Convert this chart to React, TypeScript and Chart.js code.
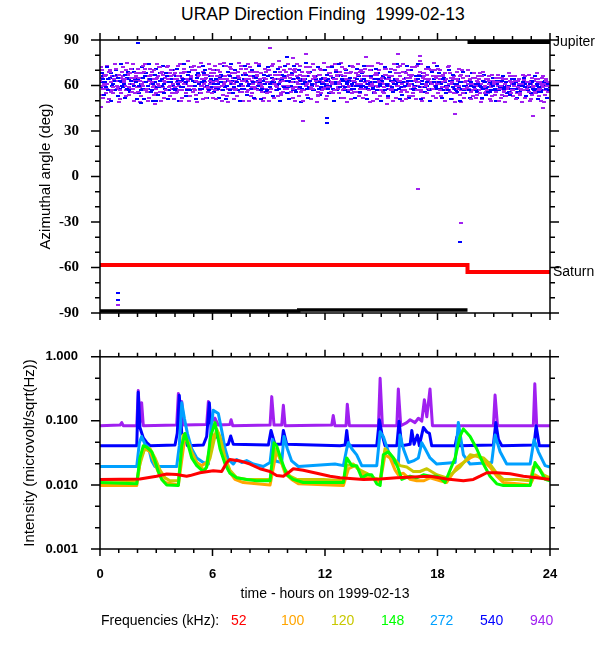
import React, { useEffect, useRef } from "react";
import { Chart, registerables } from "chart.js";
Chart.register(...registerables);

// ---------- axis tick values ----------
const HOUR_TICKS = [0, 6, 12, 18, 24];
const HOUR_MINOR = [1, 2, 3, 4, 5, 7, 8, 9, 10, 11, 13, 14, 15, 16, 17, 19, 20, 21, 22, 23];
const ANGLE_TICKS = [-90, -60, -30, 0, 30, 60, 90];
const ANGLE_MINOR = [-80, -70, -50, -40, -20, -10, 10, 20, 40, 50, 70, 80];
const INT_TICKS = [0.001, 0.01, 0.1, 1];
const INT_MINOR = [0.00215, 0.00464, 0.0215, 0.0464, 0.215, 0.464];

// ---------- top panel: azimuth samples (deg), one value per 0.125 h slot ----------
const SLOT_STEP = 0.125;
const P1 = [
  63,58,66,61,69,57,64,60,67,55,62,70,59,65,61,68,
  56,63,60,71,58,66,62,54,65,60,68,63,57,64,70,61,
  59,66,62,57,69,64,60,72,58,63,67,55,61,65,59,68,
  62,57,70,64,60,66,53,63,68,61,58,65,71,60,64,57,
  66,61,59,69,63,56,65,62,70,58,64,60,67,55,63,69,
  60,65,58,71,62,67,57,64,61,68,59,66,63,54,70,62,
  65,59,68,62,57,66,61,72,58,64,60,69,63,56,67,61,
  58,66,63,70,60,55,67,62,65,59,71,64,57,62,68,60,
  63,69,57,65,61,67,59,73,62,56,66,60,64,70,58,65,
  61,57,66,63,59,68,62,55,64,60,67,58,63,61,56,65,
  58,62,55,66,60,57,63,53,61,65,58,60,56,64,59,62,
  57,63,59,55,61,66,58,62,54,60,64,57,61,59,63,56,
];
const P2 = [
  60,67,55,64,62,59,71,63,57,66,60,64,68,56,63,59,
  65,61,69,57,63,67,59,64,61,72,56,62,66,60,58,67,
  64,57,68,61,55,63,66,60,70,62,57,64,59,67,63,55,
  68,63,59,66,61,73,58,62,65,57,69,60,63,67,56,64,
  59,65,62,57,68,61,64,70,56,63,67,59,62,65,60,58,
  67,62,70,59,64,56,66,61,69,63,58,65,60,67,57,64,
  61,68,56,64,70,59,63,57,66,62,68,55,65,61,69,58,
  66,61,57,65,62,68,59,64,56,67,61,58,66,70,60,63,
  57,64,68,60,66,55,63,62,69,59,64,67,58,61,66,62,
  66,62,59,64,57,61,65,60,58,66,55,62,59,64,57,60,
  63,57,61,59,64,55,60,62,57,65,59,54,61,58,63,57,
  60,55,64,58,62,57,60,63,59,56,62,58,65,57,60,62,
];
const P3 = [
  65,61,58,69,56,63,66,59,62,64,57,67,61,58,65,63,
  59,68,62,56,64,61,70,58,66,63,59,65,62,68,55,64,
  62,60,65,69,61,58,64,56,62,66,60,69,64,58,61,66,
  59,66,62,57,64,60,67,61,58,63,66,56,60,64,62,69,
  63,58,67,61,60,65,58,66,62,61,57,64,69,60,58,66,
  62,59,64,66,58,61,63,60,66,58,64,61,56,63,62,59,
  58,63,61,57,64,62,67,60,63,59,57,63,60,66,58,64,
  62,58,66,61,64,60,63,57,61,64,58,60,62,57,64,66,
  61,59,62,67,58,63,64,60,57,65,61,58,62,66,60,61,
  64,59,62,57,61,65,58,60,63,57,62,60,58,63,61,58,
  60,64,58,62,56,61,59,63,57,60,62,58,64,60,56,61,
  62,58,61,57,63,59,56,61,60,58,57,62,59,61,58,60,
];
const P4 = [
  72,52,67,49,70,55,74,58,51,69,63,75,54,71,50,66,
  68,53,73,57,50,71,64,48,74,56,69,52,72,59,66,51,
  55,73,50,68,62,76,53,70,57,49,72,60,67,52,74,58,
  70,51,66,74,54,62,49,72,58,68,53,75,56,63,71,50,
  53,69,75,57,64,50,71,55,67,73,52,61,76,54,70,58,
  74,56,52,69,61,73,50,66,54,72,58,70,49,67,55,75,
  51,72,66,55,74,58,69,52,71,49,64,73,56,68,53,70,
  69,54,73,60,50,67,75,53,62,71,48,66,58,74,52,68,
  56,74,51,70,65,53,72,57,76,50,68,55,71,62,75,52,
  71,53,67,50,72,56,64,49,69,54,70,52,66,58,51,68,
  52,66,49,69,55,64,51,67,54,62,50,65,57,53,68,55,
  66,51,63,54,67,52,62,50,65,55,68,53,60,49,64,56,
];
const P5 = [
  54,70,60,73,51,66,57,71,49,65,72,53,68,58,74,55,
  71,49,58,74,66,52,69,60,55,72,50,67,57,73,53,70,
  68,56,74,52,71,58,50,65,73,54,68,75,51,62,56,71,
  52,73,57,69,50,75,64,55,71,51,62,57,73,50,68,74,
  72,55,51,66,74,59,52,69,50,58,74,67,53,72,56,65,
  55,71,67,50,74,53,69,57,72,62,51,74,66,53,71,58,
  70,53,59,73,50,67,55,75,52,68,57,51,72,62,74,55,
  52,71,66,49,73,56,51,70,74,55,67,52,71,50,63,72,
  73,50,69,56,53,72,60,51,67,74,52,71,63,57,53,70,
  55,70,52,68,58,73,51,66,55,71,49,65,57,70,64,53,
  65,54,68,51,63,57,66,50,62,56,67,52,64,49,58,66,
  53,66,56,61,49,64,57,67,51,63,55,64,50,66,54,62,
];
const B1 = [
  62,66,59,64,68,61,57,65,63,60,67,58,64,61,69,62,
  60,57,65,62,58,64,61,67,59,63,60,55,66,62,64,58,
  66,61,59,64,62,67,57,63,60,65,58,62,68,60,57,64,
  61,64,58,62,66,59,63,57,61,65,62,60,58,64,67,61,
  58,62,65,60,57,63,61,66,59,62,64,57,61,67,59,63,
  63,60,57,62,65,59,61,64,58,63,60,66,62,58,64,61,
  60,64,62,58,61,66,59,63,57,62,65,61,58,64,60,63,
  64,59,61,66,58,62,64,60,63,57,61,65,59,63,61,58,
  59,62,65,61,63,58,60,64,66,61,59,62,64,58,62,60,
  62,58,64,60,57,63,59,61,56,62,58,60,63,57,60,59,
  57,61,59,63,58,56,62,60,57,61,59,63,58,55,60,62,
  61,58,56,60,62,59,57,61,63,58,60,56,59,62,58,57,
];
const B2 = [
  59,64,62,57,65,60,63,67,58,62,61,65,57,63,60,66,
  64,61,58,66,60,63,57,62,65,59,64,61,68,57,62,60,
  58,63,66,59,61,57,64,60,62,67,61,58,63,65,59,62,
  63,58,61,65,57,62,60,66,63,59,57,64,61,58,63,60,
  61,66,59,63,62,58,64,57,61,65,62,60,58,63,66,60,
  59,62,64,57,61,63,58,62,66,59,61,57,64,62,59,65,
  63,58,60,65,62,57,61,64,59,61,63,58,62,60,66,59,
  60,63,58,62,59,64,57,61,62,65,60,58,63,61,57,62,
  62,57,60,63,65,61,58,62,59,63,66,60,57,61,64,59,
  58,61,57,62,60,56,63,58,61,59,62,57,60,58,62,57,
  61,57,60,58,62,59,56,61,58,63,57,60,59,62,56,58,
  58,62,59,56,60,61,57,59,62,57,61,59,56,60,58,61,
];
const B3 = [
  68,54,72,57,50,66,70,53,74,59,52,69,56,71,64,51,
  55,72,51,68,74,56,50,71,54,68,73,58,51,66,70,57,
  71,50,63,74,53,69,72,56,51,68,55,73,70,52,66,59,
  56,70,52,67,73,51,69,74,55,70,57,50,67,73,54,66,
  70,52,58,73,51,67,56,72,61,53,69,71,50,64,73,55,
  51,68,73,56,70,49,64,75,52,69,57,66,72,54,61,70,
  67,55,72,50,69,74,52,66,70,56,73,60,52,71,56,68,
  73,51,57,70,55,71,68,50,66,72,53,69,56,64,74,51,
  54,69,73,52,70,57,66,74,51,68,56,72,50,69,58,73,
  68,52,65,55,70,51,67,57,64,50,69,55,66,52,68,60,
  56,64,52,67,54,61,57,65,50,63,58,66,53,60,54,64,
  64,52,60,57,65,53,62,55,58,66,51,61,57,63,52,59,
];
const OUT_P_H = [0.04, 0.94, 9.07, 10.3, 11.0, 10.8, 14.2, 15.9, 17.07, 16.96, 19.25, 18.93, 23.07, 23.6];
const OUT_P_V = [45.5, -84.8, 85, 78, 81, 36.5, 78.6, 81, 79.7, -8, -30.6, 41.5, 40, 45];
const OUT_B_H = [2.03, 0.94, 0.94, 12.1, 12.1, 2.2, 3.0, 19.2, 9.97];
const OUT_B_V = [88.3, -76.6, -81.6, 38.4, 35, 48.7, 50, -43, 78.5];

// body positions drawn as lines
const JUP_H = [19.6, 24];
const JUP_V = [88.7, 88.7];
const SAT_H = [0, 19.6, 19.6, 24];
const SAT_V = [-58.3, -58.3, -63, -63];
const LOW_H = [0, 10.6, 10.6, 19.6];
const LOW_V = [-88.6, -88.6, -88.1, -88.1];

// ---------- bottom panel: intensity (microvolt/sqrt(Hz)) ----------
const H940 = [0,1.07,1.16,1.24,1.96,2.04,2.13,2.22,2.31,4.09,4.18,4.27,4.36,4.48,5.69,5.78,5.9,6.13,6.31,6.93,6.99,7.08,9.07,9.16,9.28,9.69,9.78,9.87,12.36,12.44,12.53,13.12,13.19,13.3,14.85,14.94,15.06,15.83,15.91,16.04,16.36,16.54,16.8,16.98,17.16,17.3,17.43,17.6,17.73,20.98,21.07,21.2,23.11,23.19,23.29,24];
const V940 = [0.0838,0.086,0.094,0.084,0.084,0.298,0.094,0.192,0.084,0.086,0.267,0.094,0.2,0.086,0.088,0.2,0.094,0.11,0.086,0.088,0.104,0.084,0.086,0.239,0.086,0.086,0.175,0.084,0.086,0.121,0.084,0.084,0.182,0.084,0.084,0.462,0.084,0.084,0.315,0.084,0.094,0.104,0.094,0.11,0.099,0.214,0.116,0.315,0.084,0.084,0.253,0.084,0.084,0.38,0.084,0.084];

const H540 = [0,1.96,2.04,2.13,2.31,2.49,2.67,4.0,4.12,4.23,4.36,4.53,4.66,5.51,5.69,5.83,5.96,6.19,6.4,6.54,6.84,6.97,7.11,8.98,9.12,9.21,9.33,9.69,9.78,9.96,12.8,13.07,13.16,13.25,14.76,14.9,15.03,15.2,15.83,15.95,16.09,16.54,16.63,16.75,16.93,17.03,17.25,17.43,17.57,17.69,18.94,19.03,19.17,20.98,21.11,21.25,21.43,23.15,23.26,23.43,24];
const V540 = [0.041,0.041,0.28,0.079,0.054,0.046,0.041,0.042,0.064,0.25,0.064,0.057,0.041,0.042,0.057,0.192,0.054,0.06,0.048,0.041,0.043,0.058,0.043,0.042,0.071,0.057,0.043,0.043,0.071,0.043,0.041,0.042,0.071,0.041,0.041,0.104,0.064,0.041,0.041,0.099,0.041,0.043,0.071,0.043,0.06,0.041,0.079,0.067,0.064,0.041,0.041,0.056,0.041,0.042,0.094,0.051,0.041,0.042,0.084,0.041,0.041];

const H272 = [0,1.96,2.1,2.22,2.4,2.58,2.76,2.93,4.09,4.23,4.36,4.5,4.66,4.89,5.16,5.51,5.78,5.9,6.04,6.31,6.49,6.67,6.84,7.11,7.29,7.56,7.82,8.18,8.71,9.07,9.21,9.35,9.69,9.81,9.99,10.22,10.58,12.53,12.98,13.16,13.25,13.43,13.69,13.96,14.76,14.94,15.11,15.38,15.65,15.91,16.0,16.18,16.45,16.71,16.98,17.16,17.34,17.6,17.96,18.94,19.11,19.38,19.74,20.89,21.07,21.34,21.69,22.94,23.15,23.38,23.74,24];
const V272 = [0.0194,0.0194,0.0457,0.057,0.0433,0.0388,0.0237,0.0194,0.0194,0.041,0.192,0.11,0.0637,0.0367,0.0264,0.0224,0.0212,0.0637,0.146,0.13,0.0711,0.0367,0.025,0.0212,0.025,0.0224,0.024,0.0212,0.0194,0.0224,0.051,0.0237,0.0224,0.057,0.0367,0.0237,0.0194,0.0212,0.02,0.0367,0.0457,0.0367,0.0295,0.02,0.02,0.0674,0.057,0.0329,0.0224,0.0212,0.06,0.0367,0.0224,0.0237,0.0264,0.0457,0.0367,0.0264,0.0212,0.0224,0.094,0.0295,0.0212,0.0224,0.06,0.0329,0.0212,0.0212,0.051,0.0329,0.02,0.019];

const H148 = [0,1.96,2.13,2.31,2.49,2.76,2.93,3.11,3.29,3.56,4.18,4.36,4.53,4.71,4.89,5.16,5.51,5.69,5.9,6.13,6.4,6.67,6.93,7.29,7.82,8.36,9.07,9.28,9.42,9.69,9.96,10.31,10.84,11.91,12.98,13.16,13.43,13.69,13.96,14.23,14.49,14.76,14.94,15.11,15.38,15.65,15.91,16.09,16.54,16.89,17.25,17.6,17.96,18.14,18.4,18.94,19.2,19.38,19.74,20.09,20.45,20.8,21.16,21.51,22.94,23.2,23.47,23.74,24];
const V148 = [0.0109,0.0104,0.0264,0.041,0.0388,0.0329,0.0237,0.0162,0.0122,0.01,0.0098,0.041,0.0637,0.041,0.0264,0.02,0.0162,0.019,0.057,0.094,0.0367,0.0212,0.0152,0.0129,0.0122,0.0116,0.0116,0.0457,0.041,0.0237,0.0144,0.0122,0.0109,0.0109,0.0109,0.0264,0.02,0.02,0.0129,0.0144,0.0144,0.0104,0.0098,0.0295,0.0329,0.0264,0.0179,0.0122,0.0137,0.0129,0.0144,0.0137,0.0137,0.0129,0.0109,0.0264,0.057,0.075,0.057,0.0367,0.0212,0.0137,0.0104,0.0098,0.0098,0.0224,0.017,0.0122,0.0116];

const H120 = [0,1.96,2.13,2.4,2.67,2.93,3.2,3.47,3.73,4.18,4.44,4.62,4.8,4.98,5.33,5.6,5.87,6.22,6.4,6.67,6.93,7.29,7.82,9.07,9.33,9.51,9.78,10.13,10.49,11.91,12.98,13.16,13.51,13.87,14.23,14.58,14.94,15.2,15.65,16.0,16.36,16.71,17.07,17.43,17.96,18.49,19.2,19.74,20.09,20.45,20.8,21.16,21.51,22.23,22.94,23.11,23.38,23.65,24];
const V120 = [0.012,0.0116,0.0212,0.0388,0.0367,0.0264,0.017,0.0129,0.0116,0.0116,0.0603,0.051,0.0367,0.0264,0.019,0.017,0.0264,0.075,0.057,0.0264,0.017,0.0129,0.0122,0.0122,0.0367,0.0295,0.019,0.0137,0.0122,0.0122,0.0116,0.02,0.0212,0.017,0.0152,0.0129,0.0122,0.0367,0.0264,0.02,0.019,0.0162,0.0162,0.0179,0.0144,0.0129,0.019,0.0295,0.028,0.0264,0.0212,0.0152,0.0122,0.0122,0.0116,0.019,0.019,0.0144,0.0129];

const H100 = [0,1.96,2.17,2.4,2.67,2.93,3.2,3.47,4.18,4.53,4.71,4.89,5.16,5.42,5.69,6.04,6.31,6.58,6.84,7.2,7.64,9.07,9.42,9.6,9.87,10.22,10.58,12.98,13.25,13.6,13.96,14.23,14.58,14.94,15.2,15.47,15.74,15.91,16.18,16.54,16.89,17.25,17.6,18.14,18.49,19.03,19.74,20.09,20.45,20.8,21.16,21.51,22.23,22.94,23.2,23.47,23.83,24];
const V100 = [0.0098,0.0098,0.0264,0.0367,0.0329,0.0212,0.0137,0.0109,0.01,0.057,0.0457,0.0329,0.0224,0.02,0.0224,0.0603,0.0637,0.0295,0.017,0.0122,0.0109,0.01,0.0348,0.0264,0.0152,0.0122,0.0104,0.0098,0.0179,0.02,0.0152,0.0129,0.0129,0.0109,0.0295,0.0264,0.017,0.0144,0.0152,0.0122,0.0116,0.0116,0.0129,0.0116,0.0109,0.019,0.0264,0.0295,0.0237,0.019,0.0137,0.0109,0.0104,0.01,0.0144,0.0129,0.0129,0.0122];

const H52 = [0,2.13,3.02,3.56,4.09,4.62,4.8,5.33,6.04,6.49,6.76,6.93,7.47,8.0,8.53,9.07,9.42,9.78,10.13,10.31,10.84,11.56,12.27,12.8,14.05,14.94,15.83,16.71,17.6,18.49,19.38,19.91,20.27,20.63,21.16,21.87,22.58,23.29,24];
const V52 = [0.0122,0.0124,0.0137,0.0148,0.0146,0.0137,0.014,0.0155,0.0166,0.0162,0.0224,0.025,0.0237,0.0212,0.0179,0.0162,0.014,0.0137,0.0162,0.0179,0.017,0.0152,0.0137,0.0129,0.0122,0.0124,0.0129,0.0133,0.0137,0.0124,0.0116,0.0122,0.0137,0.0155,0.0155,0.015,0.0137,0.0129,0.0122];

const FREQ_LABELS = ["52", "100", "120", "148", "272", "540", "940"];
const FREQ_COLORS = ["#ff0000", "#ffa500", "#c8c800", "#00ff00", "#00a0ff", "#0000ff", "#a020f0"];
const FREQ_LEFT = [231, 281, 331, 381, 430, 480, 530];

const pts = (hs: number[], vs: number[]) => hs.map((h, i) => ({ x: h, y: vs[i] }));
const slots = (vs: number[], offset: number) => vs.map((v, i) => ({ x: i * SLOT_STEP + offset, y: v }));

function makeDash(color: string, w = 4, h = 2) {
  const c = document.createElement("canvas");
  c.width = w;
  c.height = h;
  const g = c.getContext("2d")!;
  g.fillStyle = color;
  g.fillRect(0, 0, w, h);
  return c;
}

type FrameCfg = {
  yMajor: number[];
  yMinor: number[];
  labels?: { text: string; value: number }[];
};

function makeFrame(cfg: FrameCfg) {
  return {
    id: "frame",
    afterDatasetsDraw(chart: any) {
      const { ctx, chartArea: a, scales } = chart;
      const xs = scales.x;
      const ys = scales.y;
      ctx.save();
      ctx.strokeStyle = "#000";
      ctx.lineWidth = 1.5;
      ctx.strokeRect(a.left, a.top, a.right - a.left, a.bottom - a.top);
      ctx.beginPath();
      const xt = (vals: number[], len: number) => {
        for (const v of vals) {
          const p = xs.getPixelForValue(v);
          ctx.moveTo(p, a.top);
          ctx.lineTo(p, a.top - len);
          ctx.moveTo(p, a.bottom);
          ctx.lineTo(p, a.bottom + len);
        }
      };
      const yt = (vals: number[], len: number) => {
        for (const v of vals) {
          const p = ys.getPixelForValue(v);
          ctx.moveTo(a.left, p);
          ctx.lineTo(a.left - len, p);
          ctx.moveTo(a.right, p);
          ctx.lineTo(a.right + len, p);
        }
      };
      xt(HOUR_TICKS, 7);
      xt(HOUR_MINOR, 4);
      yt(cfg.yMajor, 9);
      yt(cfg.yMinor, 5);
      ctx.stroke();
      if (cfg.labels) {
        ctx.fillStyle = "#000";
        ctx.font = '14px "Liberation Sans", Arial, sans-serif';
        ctx.textAlign = "left";
        ctx.textBaseline = "middle";
        for (const l of cfg.labels) ctx.fillText(l.text, a.right + 3, ys.getPixelForValue(l.value));
      }
      ctx.restore();
    },
  };
}

export default function App() {
  const topRef = useRef<HTMLCanvasElement>(null);
  const botRef = useRef<HTMLCanvasElement>(null);

  useEffect(() => {
    const purple = makeDash("#a020f0");
    const blue = makeDash("#0000ff");
    const scatterDs = (data: any[], img: HTMLCanvasElement) => ({
      data,
      showLine: false,
      pointStyle: img,
      pointRadius: 2,
    });
    const lineDs = (data: any[], color: string, w: number) => ({
      data,
      showLine: true,
      borderColor: color,
      borderWidth: w,
      pointRadius: 0,
      fill: false,
    });

    const top = new Chart(topRef.current!, {
      type: "scatter",
      data: {
        datasets: [
          lineDs(pts(JUP_H, JUP_V), "#000000", 4),
          lineDs(pts(SAT_H, SAT_V), "#ff0000", 4),
          lineDs(pts(LOW_H, LOW_V), "#000000", 3.5),
          scatterDs(pts(OUT_P_H, OUT_P_V), purple),
          scatterDs(pts(OUT_B_H, OUT_B_V), blue),
          scatterDs(slots(P1, 0.02), purple),
          scatterDs(slots(B1, 0.06), blue),
          scatterDs(slots(P2, 0.09), purple),
          scatterDs(slots(P4, 0.05), purple),
          scatterDs(slots(B2, 0.04), blue),
          scatterDs(slots(P3, 0.11), purple),
          scatterDs(slots(B3, 0.1), blue),
          scatterDs(slots(P5, 0.0), purple),
        ] as any,
      },
      options: {
        animation: false,
        responsive: false,
        events: [],
        layout: { padding: { left: 0, right: 50, top: 40, bottom: 16 }, autoPadding: false },
        plugins: { legend: { display: false }, tooltip: { enabled: false }, title: { display: false } },
        scales: {
          x: { type: "linear", min: 0, max: 24, display: false },
          y: {
            type: "linear",
            min: -90,
            max: 90,
            grid: { display: false },
            border: { display: false },
            afterBuildTicks: (s: any) => {
              s.ticks = ANGLE_TICKS.map((v) => ({ value: v }));
            },
            afterFit: (s: any) => {
              s.width = 100;
            },
            ticks: {
              color: "#000",
              padding: 13,
              font: { family: '"Liberation Serif", "Times New Roman", serif', size: 15, weight: "bold" },
              callback: (v: any) => String(v),
            },
            title: {
              display: true,
              text: "Azimuthal angle (deg)",
              color: "#000",
              font: { family: '"Liberation Sans", Arial, sans-serif', size: 15 },
              padding: { top: 37, bottom: 0 },
            },
          },
        },
      } as any,
      plugins: [
        makeFrame({
          yMajor: ANGLE_TICKS,
          yMinor: ANGLE_MINOR,
          labels: [
            { text: "Jupiter", value: JUP_V[0] },
            { text: "Saturn", value: SAT_V[3] },
          ],
        }),
      ],
    });

    const freqData = [
      pts(H52, V52),
      pts(H100, V100),
      pts(H120, V120),
      pts(H148, V148),
      pts(H272, V272),
      pts(H540, V540),
      pts(H940, V940),
    ];
    const drawOrder = [0, 3, 2, 1, 4, 5, 6];
    const bot = new Chart(botRef.current!, {
      type: "scatter",
      data: {
        datasets: drawOrder.map((k) => ({
          label: FREQ_LABELS[k],
          data: freqData[k],
          showLine: true,
          borderColor: FREQ_COLORS[k],
          borderWidth: 3,
          borderJoinStyle: "round",
          pointRadius: 0,
          fill: false,
        })) as any,
      },
      options: {
        animation: false,
        responsive: false,
        events: [],
        layout: { padding: { left: 0, right: 50, top: 5, bottom: 41 }, autoPadding: false },
        plugins: { legend: { display: false }, tooltip: { enabled: false }, title: { display: false } },
        scales: {
          x: {
            type: "linear",
            min: 0,
            max: 24,
            grid: { display: false },
            border: { display: false },
            afterBuildTicks: (s: any) => {
              s.ticks = HOUR_TICKS.map((v) => ({ value: v }));
            },
            afterFit: (s: any) => {
              s.height = 60;
            },
            ticks: {
              color: "#000",
              padding: 10,
              maxRotation: 0,
              font: { family: '"Liberation Sans", Arial, sans-serif', size: 13, weight: "bold" },
              callback: (v: any) => String(v),
            },
            title: {
              display: true,
              text: "time - hours on 1999-02-13",
              color: "#000",
              font: { family: '"Liberation Sans", Arial, sans-serif', size: 14 },
              padding: { top: 0, bottom: 6.5 },
            },
          },
          y: {
            type: "logarithmic",
            min: 0.001,
            max: 1,
            grid: { display: false },
            border: { display: false },
            afterBuildTicks: (s: any) => {
              s.ticks = INT_TICKS.map((v) => ({ value: v }));
            },
            afterFit: (s: any) => {
              s.width = 100;
            },
            ticks: {
              color: "#000",
              padding: 14,
              font: { family: '"Liberation Sans", Arial, sans-serif', size: 13, weight: "bold" },
              callback: (v: any) => Number(v).toFixed(3),
            },
            title: {
              display: true,
              text: "Intensity (microvolt/sqrt(Hz))",
              color: "#000",
              font: { family: '"Liberation Sans", Arial, sans-serif', size: 15 },
              padding: { top: 21, bottom: 0 },
            },
          },
        },
      } as any,
      plugins: [makeFrame({ yMajor: INT_TICKS, yMinor: INT_MINOR })],
    });

    return () => {
      top.destroy();
      bot.destroy();
    };
  }, []);

  const font = '"Liberation Sans", Arial, sans-serif';
  return (
    <div style={{ position: "absolute", left: 0, top: 0, width: 600, height: 650, background: "#fff", fontFamily: font }}>
      <div
        style={{
          position: "absolute",
          left: 181,
          top: 4,
          fontSize: 17.5,
          lineHeight: "20px",
          whiteSpace: "pre",
          color: "#000",
        }}
      >
        {"URAP Direction Finding  1999-02-13"}
      </div>
      <canvas ref={topRef} width={600} height={335} style={{ position: "absolute", left: 0, top: 0, width: 600, height: 335 }} />
      <canvas ref={botRef} width={600} height={315} style={{ position: "absolute", left: 0, top: 335, width: 600, height: 315 }} />
      <div style={{ position: "absolute", left: 0, top: 610, width: 600, height: 20, fontSize: 14, lineHeight: "20px", whiteSpace: "pre" }}>
        <span style={{ position: "absolute", left: 101, color: "#000" }}>Frequencies (kHz):</span>
        {FREQ_LABELS.map((f, i) => (
          <span key={f} style={{ position: "absolute", left: FREQ_LEFT[i], color: FREQ_COLORS[i] }}>
            {f}
          </span>
        ))}
      </div>
    </div>
  );
}
